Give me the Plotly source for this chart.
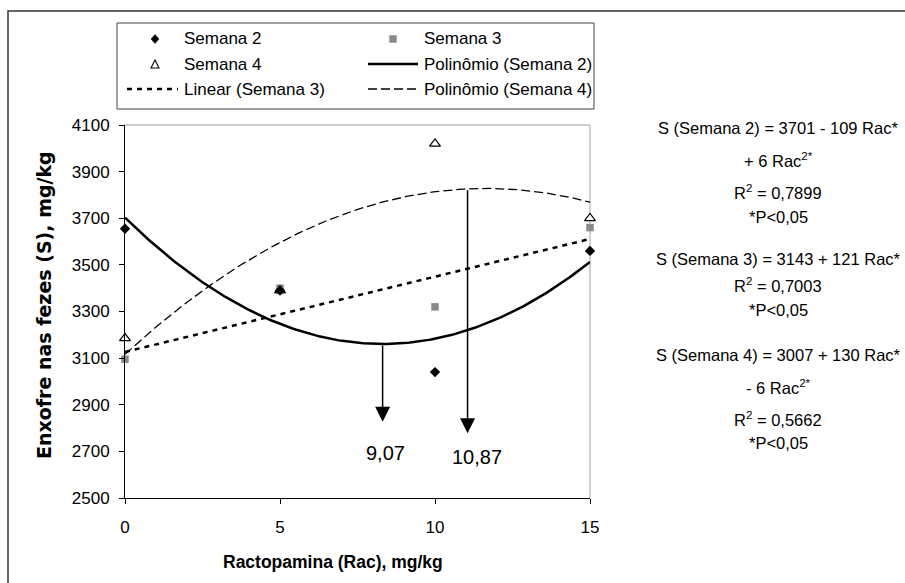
import numpy as np
import plotly.graph_objects as go

W, H = 905, 583

# ---------------- data ----------------
rac = [0, 5, 10, 15]
semana2 = [3655, 3390, 3040, 3560]
semana3 = [3095, 3400, 3320, 3660]
semana4 = [3185, 3390, 4020, 3700]

x_ticks = [0, 5, 10, 15]
y_ticks = [2500, 2700, 2900, 3100, 3300, 3500, 3700, 3900, 4100]

arrow_x = [8.31, 11.05]          # where the arrows leave the curves
arrow_tip = [2827, 2778]         # arrow tips
arrow_labels = ["9,07", "10,87"]
label_x = [8.39, 11.35]
label_y = [2693, 2676]

eq_lines = [
    "S (Semana 2) = 3701 - 109 Rac*", "+ 6 Rac<sup>2*</sup>", "R<sup>2</sup> = 0,7899", "*P<0,05",
    "S (Semana 3) = 3143 + 121 Rac*", "R<sup>2</sup> = 0,7003", "*P<0,05",
    "S (Semana 4) = 3007 + 130 Rac*", "- 6 Rac<sup>2*</sup>", "R<sup>2</sup> = 0,5662", "*P<0,05",
]
eq_y = [128, 160, 192, 217, 259, 285, 310, 355, 387, 419, 443]

# ---------------- helpers ----------------
def px(x):
    return x / W

def py(y):
    return 1 - y / H

FONT = "Liberation Sans, Arial, sans-serif"

# trend lines fitted from the data (as the spreadsheet did)
xs = np.linspace(0, 15, 200)
p2 = np.polyfit(rac, semana2, 2)
p3 = np.polyfit(rac, semana3, 1)
p4 = np.polyfit(rac, semana4, 2)
arrow_top = [np.polyval(p2, arrow_x[0]), np.polyval(p4, arrow_x[1])]

fig = go.Figure()

fig.add_trace(go.Scatter(x=xs, y=np.polyval(p4, xs), mode="lines",
                         line=dict(color="black", width=1.3, dash="9px,4px"),
                         name="Polinômio (Semana 4)", showlegend=False))
fig.add_trace(go.Scatter(x=xs, y=np.polyval(p3, xs), mode="lines",
                         line=dict(color="black", width=2.5, dash="5px,5px"),
                         name="Linear (Semana 3)", showlegend=False))
fig.add_trace(go.Scatter(x=xs, y=np.polyval(p2, xs), mode="lines",
                         line=dict(color="black", width=2.5),
                         name="Polinômio (Semana 2)", showlegend=False))

fig.add_trace(go.Scatter(x=rac, y=semana3, mode="markers", name="Semana 3",
                         marker=dict(symbol="square", size=7.5, color="#8a8a8a"),
                         cliponaxis=False, showlegend=False))
fig.add_trace(go.Scatter(x=rac, y=semana4, mode="markers", name="Semana 4",
                         marker=dict(symbol="triangle-up", size=9.5, color="white",
                                     line=dict(color="black", width=1.2)),
                         cliponaxis=False, showlegend=False))
fig.add_trace(go.Scatter(x=rac, y=semana2, mode="markers", name="Semana 2",
                         marker=dict(symbol="diamond", size=8, color="black"),
                         cliponaxis=False, showlegend=False))

shapes = []
annotations = []

# outer chart border
shapes.append(dict(type="rect", xref="paper", yref="paper",
                   x0=px(8), x1=px(930), y0=py(11), y1=py(610),
                   line=dict(color="#333333", width=1.5), layer="below"))
# plot area border (grey top/right)
shapes.append(dict(type="line", xref="x domain", yref="y domain", x0=0, x1=1, y0=1, y1=1,
                   line=dict(color="#a0a0a0", width=1), layer="below"))
shapes.append(dict(type="line", xref="x domain", yref="y domain", x0=1, x1=1, y0=0, y1=1,
                   line=dict(color="#a0a0a0", width=1), layer="below"))

# legend box
shapes.append(dict(type="rect", xref="paper", yref="paper",
                   x0=px(117), x1=px(594), y0=py(23), y1=py(109),
                   line=dict(color="#444444", width=1), fillcolor="white"))

row_y = [39, 64, 89]
c1_sym, c1_txt = 155, 182
c2_sym, c2_txt = 393, 422

# legend symbols
def diamond(cx, cy, hw, hh):
    return (f"M {px(cx - hw)} {py(cy)} L {px(cx)} {py(cy - hh)} "
            f"L {px(cx + hw)} {py(cy)} L {px(cx)} {py(cy + hh)} Z")

def triangle(cx, cy, hw, hh):
    return (f"M {px(cx - hw)} {py(cy + hh)} L {px(cx + hw)} {py(cy + hh)} "
            f"L {px(cx)} {py(cy - hh)} Z")

shapes.append(dict(type="path", xref="paper", yref="paper", path=diamond(c1_sym, row_y[0], 4, 4.5),
                   fillcolor="black", line=dict(color="black", width=0.5)))
shapes.append(dict(type="rect", xref="paper", yref="paper",
                   x0=px(c2_sym - 3.5), x1=px(c2_sym + 3.5), y0=py(row_y[0] - 3.5), y1=py(row_y[0] + 3.5),
                   fillcolor="#8a8a8a", line=dict(color="#8a8a8a", width=0.5)))
shapes.append(dict(type="path", xref="paper", yref="paper", path=triangle(c1_sym, row_y[1], 4, 4),
                   fillcolor="white", line=dict(color="black", width=1.1)))
shapes.append(dict(type="line", xref="paper", yref="paper",
                   x0=px(368), x1=px(418), y0=py(row_y[1]), y1=py(row_y[1]),
                   line=dict(color="black", width=2.5)))
shapes.append(dict(type="line", xref="paper", yref="paper",
                   x0=px(127), x1=px(178), y0=py(row_y[2]), y1=py(row_y[2]),
                   line=dict(color="black", width=2.5, dash="5px,5px")))
shapes.append(dict(type="line", xref="paper", yref="paper",
                   x0=px(368), x1=px(418), y0=py(row_y[2]), y1=py(row_y[2]),
                   line=dict(color="black", width=1.3, dash="9px,4px")))

legend_texts = [
    (c1_txt, row_y[0], "Semana 2"), (c2_txt, row_y[0], "Semana 3"),
    (c1_txt, row_y[1], "Semana 4"), (c2_txt, row_y[1], "Polinômio (Semana 2)"),
    (c1_txt, row_y[2], "Linear (Semana 3)"), (c2_txt, row_y[2], "Polinômio (Semana 4)"),
]
for tx, ty, t in legend_texts:
    annotations.append(dict(xref="paper", yref="paper", x=px(tx), y=py(ty), text=t,
                            showarrow=False, xanchor="left", yanchor="middle",
                            font=dict(family=FONT, size=17, color="black")))

# equations
for t, yy in zip(eq_lines, eq_y):
    annotations.append(dict(xref="paper", yref="paper", x=px(778), y=py(yy), text=t,
                            showarrow=False, xanchor="center", yanchor="middle",
                            font=dict(family=FONT, size=16.5, color="black")))

# arrows
for xa, yt, ytop in zip(arrow_x, arrow_tip, arrow_top):
    annotations.append(dict(xref="x", yref="y", x=xa, y=yt, axref="x", ayref="y",
                            ax=xa, ay=ytop, text="", showarrow=True, arrowhead=2,
                            arrowsize=2, arrowwidth=1.5, arrowcolor="black"))
for lx, ly, t in zip(label_x, label_y, arrow_labels):
    annotations.append(dict(xref="x", yref="y", x=lx, y=ly, text=t, showarrow=False,
                            xanchor="center", yanchor="middle",
                            font=dict(family=FONT, size=20, color="black")))

# axis titles
annotations.append(dict(xref="paper", yref="paper", x=px(333), y=py(562),
                        text="<b>Ractopamina (Rac), mg/kg</b>", showarrow=False,
                        xanchor="center", yanchor="middle",
                        font=dict(family=FONT, size=17.5, color="black")))
annotations.append(dict(xref="paper", yref="paper", x=px(44), y=py(305),
                        text="<b>Enxofre nas fezes (S), mg/kg</b>", showarrow=False,
                        textangle=-90, xanchor="center", yanchor="middle",
                        font=dict(family="DejaVu Sans, sans-serif", size=19, color="black")))

fig.update_layout(
    width=W, height=H,
    margin=dict(l=0, r=0, t=0, b=0),
    paper_bgcolor="white", plot_bgcolor="white",
    showlegend=False,
    shapes=shapes, annotations=annotations,
    xaxis=dict(domain=[px(125), px(590)], range=[0, 15], tickvals=x_ticks,
               showgrid=False, zeroline=False, showline=True, linecolor="black", linewidth=1,
               ticks="outside", ticklen=5, tickcolor="black", ticklabelstandoff=9,
               tickfont=dict(family=FONT, size=17, color="black"), automargin=False),
    yaxis=dict(domain=[py(498), py(125)], range=[2500, 4100], tickvals=y_ticks,
               showgrid=False, zeroline=False, showline=True, linecolor="black", linewidth=1,
               ticks="outside", ticklen=5, tickcolor="black", ticklabelstandoff=6,
               tickfont=dict(family=FONT, size=17, color="black"), automargin=False),
)

fig.write_html("out.html", config={"displayModeBar": False},
               post_script="document.body.style.margin='0';")
